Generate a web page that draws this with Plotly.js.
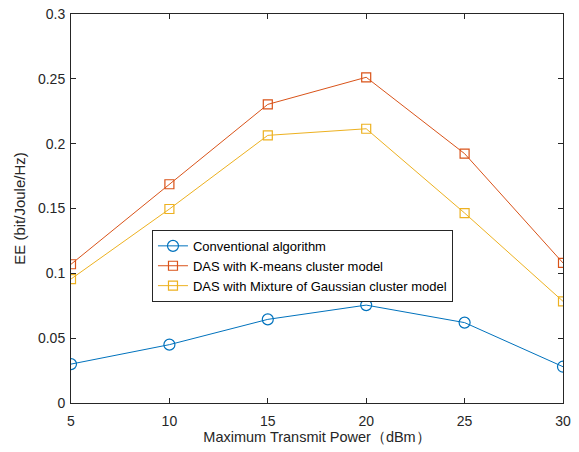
<!DOCTYPE html>
<html>
<head>
<meta charset="utf-8">
<script src="https://cdn.plot.ly/plotly-3.0.1.min.js"></script>
<style>html,body{margin:0;padding:0;background:#fff;}</style>
</head>
<body>
<div id="chart" style="width:579px;height:452px;"></div>
<script>
const power = [5, 10, 15, 20, 25, 30];
const conventional = [0.030, 0.045, 0.0645, 0.0755, 0.062, 0.028];
const kmeans = [0.107, 0.1687, 0.2303, 0.2512, 0.1923, 0.108];
const gaussian = [0.0956, 0.1496, 0.2064, 0.2115, 0.1465, 0.0784];
const names = ['Conventional algorithm', 'DAS with K-means cluster model', 'DAS with Mixture of Gaussian cluster model'];
const colors = ['#0072BD', '#D95319', '#EDB120'];

const traces = [
  {x: power, y: conventional, name: names[0], mode: 'lines+markers', line: {color: colors[0], width: 1}, marker: {symbol: 'circle-open', size: 11, color: colors[0], line: {width: 1.2}}},
  {x: power, y: kmeans, name: names[1], mode: 'lines+markers', line: {color: colors[1], width: 1}, marker: {symbol: 'square-open', size: 9, color: colors[1], line: {width: 1.2}}},
  {x: power, y: gaussian, name: names[2], mode: 'lines+markers', line: {color: colors[2], width: 1}, marker: {symbol: 'square-open', size: 9, color: colors[2], line: {width: 1.2}}}
];

const fontFam = 'Liberation Sans, Arial, sans-serif';
const axisCommon = {
  showgrid: false, zeroline: false, showline: true, mirror: 'ticks',
  linecolor: '#262626', linewidth: 1, ticks: 'inside', ticklen: 5, tickcolor: '#262626',
  tickfont: {family: fontFam, size: 14, color: '#262626'}
};

const layout = {
  width: 579, height: 452,
  margin: {l: 71, r: 16, t: 14, b: 49},
  paper_bgcolor: '#fff', plot_bgcolor: '#fff',
  showlegend: true,
  xaxis: Object.assign({}, axisCommon, {
    range: [5, 30], tickvals: [5, 10, 15, 20, 25, 30], ticktext: ['5','10','15','20','25','30'],
    ticklabelstandoff: 5,
    title: {text: 'Maximum Transmit Power（dBm）', font: {family: fontFam, size: 14.5, color: '#262626'}, standoff: 2}
  }),
  yaxis: Object.assign({}, axisCommon, {
    range: [0, 0.3], tickvals: [0, 0.05, 0.1, 0.15, 0.2, 0.25, 0.3], ticktext: ['0','0.05','0.1','0.15','0.2','0.25','0.3'],
    ticklabelstandoff: 2,
    title: {text: 'EE (bit/Joule/Hz)', font: {family: fontFam, size: 15, color: '#262626'}, standoff: 8}
  }),
  legend: {
    x: 0.1646, y: 0.445, xanchor: 'left', yanchor: 'top',
    bgcolor: '#fff', bordercolor: '#262626', borderwidth: 1,
    font: {family: fontFam, size: 13, color: '#000'},
    tracegroupgap: 0
  }
};

Plotly.newPlot('chart', traces, layout, {displayModeBar: false, staticPlot: true});
</script>
</body>
</html>
